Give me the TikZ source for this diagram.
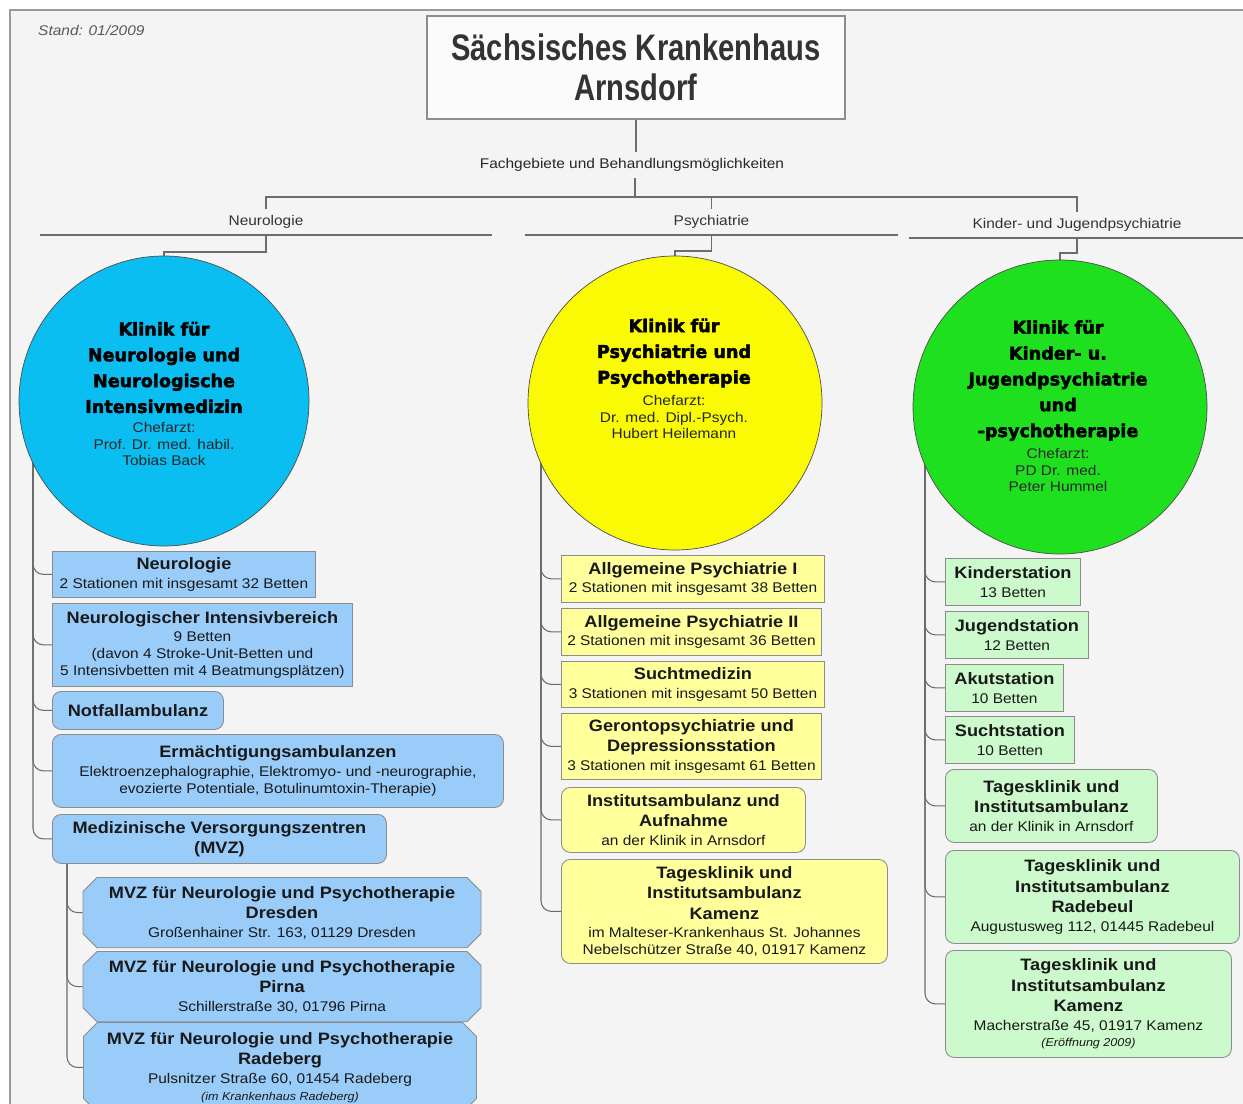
\documentclass[tikz,border=0pt]{standalone}
\usepackage{fontspec}
\setmainfont{Liberation Sans}[FakeStretch=1.1]
\newfontfamily\heavyfont{DejaVu Sans}[BoldFeatures={FakeBold=2.5}]
\newfontfamily\titlefont[FakeStretch=0.79]{Liberation Sans}
\usetikzlibrary{positioning, calc, shapes.misc}
\definecolor{colour_bg}{HTML}{F4F4F4}
\definecolor{colour_frame}{HTML}{9A9A9A}
\definecolor{colour_neuro}{HTML}{0BBEF2}
\definecolor{colour_psych}{HTML}{FAFA05}
\definecolor{colour_kjp}{HTML}{1FE01F}
\definecolor{colour_neuro_unit}{HTML}{9ACCFA}
\definecolor{colour_psych_unit}{HTML}{FFFF9C}
\definecolor{colour_kjp_unit}{HTML}{CCFACC}
\pgfdeclarelayer{background}
\pgfsetlayers{background,main}
\newcommand{\ttl}[1]{{\fontsize{9.4}{11}\selectfont\bfseries #1}}
\newcommand{\note}[1]{{\fontsize{6.5}{8}\selectfont\itshape #1}}

\begin{document}
\begin{tikzpicture}[
    x=0.02cm, y=-0.02cm,
    font=\fontsize{8}{9.6}\selectfont,
    sz/.style 2 args={minimum width=#1*0.02cm, minimum height=#2*0.02cm},
    link/.style={draw=gray!85!black, line width=0.6pt},
    branch/.style={link, rounded corners=6pt},
    rule/.style={draw=gray!85!black, line width=1pt},
    fieldlabel/.style={text=black!80, inner xsep=0pt, inner ysep=3.5pt, anchor=south,
                       font=\fontsize{8}{10}\selectfont},
    klinik/.style={circle, draw=gray!60!black, line width=0.4pt, inner sep=0pt},
    ktitle/.style={font=\heavyfont\bfseries\fontsize{10}{14.7}\selectfont, align=center,
                   inner sep=0pt},
    kbody/.style={align=center, text=black!85, inner sep=0pt},
    unit/.style={draw=gray!90, line width=0.5pt, align=center, inner sep=1pt, text=black!90},
    station/.style={unit, anchor=north west},
    ambulanz/.style={unit, anchor=north west, rounded corners=5pt},
    mvzbox/.style={unit, anchor=north, chamfered rectangle,
                   chamfered rectangle xsep=4pt, chamfered rectangle ysep=4pt},
    nu/.style={fill=colour_neuro_unit},
    pu/.style={fill=colour_psych_unit},
    ku/.style={fill=colour_kjp_unit}
]
\clip (0,0) rectangle (1243,1104);
\useasboundingbox (0,0) rectangle (1243,1104);

% Frame
\begin{pgfonlayer}{background}
\fill[white] (0,0) rectangle (1243,1104);
\fill[colour_bg] (10,10) rectangle (1243,1104);
\draw[colour_frame, line width=0.8pt] (10,1104) -- (10,10) -- (1243,10);
\end{pgfonlayer}

\node[anchor=west, text=black!65, font=\fontsize{8}{9.6}\selectfont\itshape] (stand) at (32,30) {Stand: 01/2009};

% Head of the tree
\node[draw=gray!90, line width=0.8pt, fill=colour_bg!40!white, sz={418}{103}, align=center,
      text=black!80, font=\titlefont\bfseries\fontsize{21}{22.7}\selectfont] (title) at (636,67.5)
     {Sächsisches Krankenhaus\\Arnsdorf};
\node[text=black!85, font=\fontsize{8}{10}\selectfont] (fach) at (632,165)
     {Fachgebiete und Behandlungsmöglichkeiten};
\coordinate (hub) at (635,197);

% Fields
\node[fieldlabel, sz={452}{10}] (neuro) at (266,235) {Neurologie};
\node[fieldlabel, sz={373}{10}] (psych) at (711.5,235) {Psychiatrie};
\node[fieldlabel, sz={335}{10}] (kjp) at (1077,238) {Kinder- und Jugendpsychiatrie};

% Clinics
\node[klinik, fill=colour_neuro, minimum size=290*0.02cm] (kn) at (164,401) {};
\node[klinik, fill=colour_psych, minimum size=294*0.02cm] (kp) at (675,403) {};
\node[klinik, fill=colour_kjp, minimum size=294*0.02cm] (kk) at (1060,407) {};

\node[ktitle] (knt) at (164,367.5) {Klinik für\\Neurologie und\\Neurologische\\Intensivmedizin};
\node[kbody] (knb) at (164,444) {Chefarzt:\\Prof. Dr. med. habil.\\Tobias Back};
\node[ktitle] (kpt) at (674,353) {Klinik für\\Psychiatrie und\\Psychotherapie};
\node[kbody] (kpb) at (674,417) {Chefarzt:\\Dr. med. Dipl.-Psych.\\Hubert Heilemann};
\node[ktitle] (kkt) at (1058,380.5) {Klinik für\\Kinder- u.\\Jugendpsychiatrie\\und\\-psychotherapie};
\node[kbody] (kkb) at (1058,470) {Chefarzt:\\PD Dr. med.\\Peter Hummel};

% Neurologie units
\node[station, nu, sz={263}{46}] (n1) at (52,551)
     {\ttl{Neurologie}\\[1pt]2 Stationen mit insgesamt 32 Betten};
\node[station, nu, sz={300}{83}] (n2) at (52,603)
     {\ttl{Neurologischer Intensivbereich}\\[1pt]9 Betten\\(davon 4 Stroke-Unit-Betten und\\5 Intensivbetten mit 4 Beatmungsplätzen)};
\node[ambulanz, nu, sz={171}{38}] (n3) at (52,691) {\ttl{Notfallambulanz}};
\node[ambulanz, nu, sz={451}{73}] (n4) at (52,734)
     {\ttl{Ermächtigungsambulanzen}\\[1pt]Elektroenzephalographie, Elektromyo- und -neurographie,\\evozierte Potentiale, Botulinumtoxin-Therapie)};
\node[ambulanz, nu, sz={334}{49}] (mvz) at (52,814)
     {\ttl{Medizinische Versorgungszentren}\\[2pt]\ttl{(MVZ)}};
\node[mvzbox, nu, sz={398}{67}] (m1) at (282,877)
     {\ttl{MVZ für Neurologie und Psychotherapie}\\[2pt]\ttl{Dresden}\\[1pt]Großenhainer Str. 163, 01129 Dresden};
\node[mvzbox, nu, sz={398}{66}] (m2) at (282,951)
     {\ttl{MVZ für Neurologie und Psychotherapie}\\[2pt]\ttl{Pirna}\\[1pt]Schillerstraße 30, 01796 Pirna};
\node[mvzbox, nu, sz={393}{90}] (m3) at (280,1022)
     {\ttl{MVZ für Neurologie und Psychotherapie}\\[2pt]\ttl{Radeberg}\\[1pt]Pulsnitzer Straße 60, 01454 Radeberg\\\note{(im Krankenhaus Radeberg)}};

% Psychiatrie units
\node[station, pu, sz={263}{47}] (p1) at (561,555)
     {\ttl{Allgemeine Psychiatrie I}\\[1pt]2 Stationen mit insgesamt 38 Betten};
\node[station, pu, sz={260}{47}] (p2) at (561,608)
     {\ttl{Allgemeine Psychiatrie II}\\[1pt]2 Stationen mit insgesamt 36 Betten};
\node[station, pu, sz={263}{46}] (p3) at (561,661)
     {\ttl{Suchtmedizin}\\[1pt]3 Stationen mit insgesamt 50 Betten};
\node[station, pu, sz={260}{66}] (p4) at (561,713)
     {\ttl{Gerontopsychiatrie und}\\[2pt]\ttl{Depressionsstation}\\[1pt]3 Stationen mit insgesamt 61 Betten};
\node[ambulanz, pu, sz={244}{65}] (p5) at (561,787)
     {\ttl{Institutsambulanz und}\\[2pt]\ttl{Aufnahme}\\[1pt]an der Klinik in Arnsdorf};
\node[ambulanz, pu, sz={326}{104}] (p6) at (561,859)
     {\ttl{Tagesklinik und}\\[2pt]\ttl{Institutsambulanz}\\[2pt]\ttl{Kamenz}\\[1pt]im Malteser-Krankenhaus St. Johannes\\Nebelschützer Straße 40, 01917 Kamenz};

% Kinder- und Jugendpsychiatrie units
\node[station, ku, sz={135}{47}] (k1) at (945,558) {\ttl{Kinderstation}\\[1pt]13 Betten};
\node[station, ku, sz={143}{47}] (k2) at (945,611) {\ttl{Jugendstation}\\[1pt]12 Betten};
\node[station, ku, sz={118}{47}] (k3) at (945,664) {\ttl{Akutstation}\\[1pt]10 Betten};
\node[station, ku, sz={129}{47}] (k4) at (945,716) {\ttl{Suchtstation}\\[1pt]10 Betten};
\node[ambulanz, ku, sz={212}{73}] (k5) at (945,769)
     {\ttl{Tagesklinik und}\\[2pt]\ttl{Institutsambulanz}\\[1pt]an der Klinik in Arnsdorf};
\node[ambulanz, ku, sz={294}{93}] (k6) at (945,850)
     {\ttl{Tagesklinik und}\\[2pt]\ttl{Institutsambulanz}\\[2pt]\ttl{Radebeul}\\[1pt]Augustusweg 112, 01445 Radebeul};
\node[ambulanz, ku, sz={286}{107}] (k7) at (945,950)
     {\ttl{Tagesklinik und}\\[2pt]\ttl{Institutsambulanz}\\[2pt]\ttl{Kamenz}\\[1pt]Macherstraße 45, 01917 Kamenz\\\note{(Eröffnung 2009)}};

% Connectors
\coordinate (nsp) at (33,401);
\coordinate (psp) at (541,403);
\coordinate (ksp) at (925,407);
\coordinate (msp) at ($(mvz.south west)+(15,0)$);
\begin{pgfonlayer}{background}
\draw[link] (title.south) -- (title.south |- fach.north);
\draw[link] (hub |- fach.south) -- (hub);
\foreach \f in {neuro, psych, kjp} \draw[link] (hub) -| (\f.north);
\foreach \f in {neuro, psych, kjp} \draw[rule] (\f.south west) -- (\f.south east);
\draw[link] (neuro.south) -- ++(0,17) -| (kn.north);
\draw[link] (psych.south) -- ++(0,16) -| (kp.north);
\draw[link] (kjp.south) -- ++(0,15) -| (kk.north);
\foreach \b in {n1, n2, n3, n4, mvz} \draw[branch] (nsp) |- (\b.west);
\foreach \b in {m1, m2, m3} \draw[branch] (msp) |- (\b.west);
\foreach \b in {p1, p2, p3, p4, p5, p6} \draw[branch] (psp) |- (\b.west);
\foreach \b in {k1, k2, k3, k4, k5, k6, k7} \draw[branch] (ksp) |- (\b.west);
\end{pgfonlayer}

\end{tikzpicture}
\end{document}
